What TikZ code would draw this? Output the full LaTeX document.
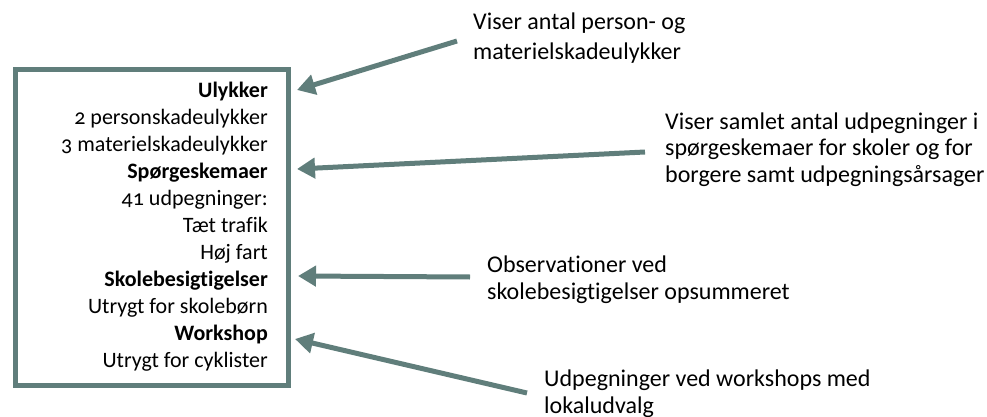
\documentclass[tikz,border=0pt]{standalone}
\usepackage{fontspec}
\setmainfont{Carlito}[Numbers=OldStyle,Ligatures=NoCommon]
\usetikzlibrary{arrows.meta}
\definecolor{accentc}{RGB}{96,126,123}
\begin{document}
\begin{tikzpicture}[x=1pt,y=-1pt,
  framebox/.style={draw=accentc, line width=5pt, inner sep=0pt, anchor=north west},
  boxtext/.style={anchor=base east, align=right, inner sep=0pt, font=\fontsize{22}{27}\selectfont},
  callout/.style={anchor=base west, align=left, inner sep=0pt, font=\fontsize{24}{27.5}\selectfont},
  pointer/.style={draw=accentc, line width=5pt, -{Triangle[width=20pt,length=18pt]}}]
\useasboundingbox (0,0) rectangle (987,417);
\node[framebox, minimum width=273pt, minimum height=315pt] (box) at (12.5,67.5) {};
\node[boxtext] (list) at (268,367) {\textbf{Ulykker}\\2 personskadeulykker\\3 materielskadeulykker\\\textbf{Spørgeskemaer}\\41 udpegninger:\\Tæt trafik\\Høj fart\\\textbf{Skolebesigtigelser}\\Utrygt for skolebørn\\\textbf{Workshop}\\Utrygt for cyklister};
\node[callout, font=\fontsize{24}{29.5}\selectfont] (c1) at (473,59.5) {Viser antal person- og\\materielskadeulykker};
\node[callout, font=\fontsize{24}{26.5}\selectfont] (c2) at (665,182) {Viser samlet antal udpegninger i\\spørgeskemaer for skoler og for\\borgere samt udpegningsårsager};
\node[callout] (c3) at (487,299.5) {Observationer ved\\skolebesigtigelser opsummeret};
\node[callout, font=\fontsize{24}{26.5}\selectfont] (c4) at (544,413) {Udpegninger ved workshops med\\lokaludvalg};
\coordinate (a1) at (457,41);
\coordinate (t1) at (297,90);
\coordinate (a2) at (645,152);
\coordinate (t2) at (297,169);
\coordinate (a3) at (470,277);
\coordinate (t3) at (298,276);
\coordinate (a4) at (527,393);
\coordinate (t4) at (295,339);
\draw[pointer] (a1) -- (t1);
\draw[pointer] (a2) -- (t2);
\draw[pointer] (a3) -- (t3);
\draw[pointer] (a4) -- (t4);
\end{tikzpicture}
\end{document}
